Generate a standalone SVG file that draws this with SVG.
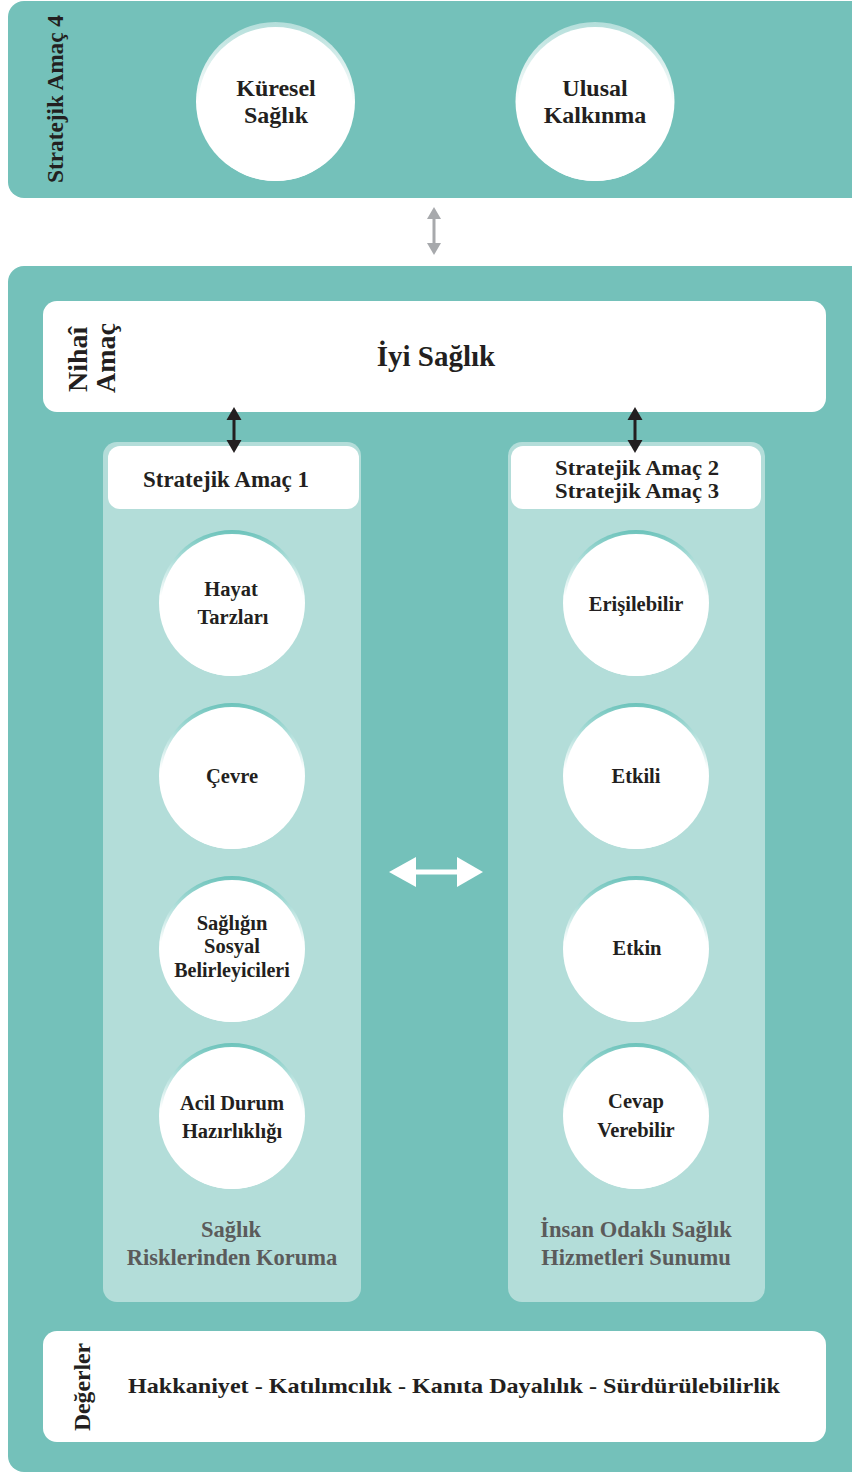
<svg xmlns="http://www.w3.org/2000/svg" width="852" height="1474" viewBox="0 0 852 1474">
<defs>
<linearGradient id="ringCol" x1="0" y1="0" x2="0" y2="1">
<stop offset="0" stop-color="#6cc3bb"/>
<stop offset="0.45" stop-color="#ffffff"/>
<stop offset="1" stop-color="#ffffff"/>
</linearGradient>
<linearGradient id="ringTop" x1="0" y1="0" x2="0" y2="1">
<stop offset="0" stop-color="#b3deda"/>
<stop offset="0.5" stop-color="#ffffff"/>
<stop offset="1" stop-color="#ffffff"/>
</linearGradient>
<style>
.t{font-family:"Liberation Serif","DejaVu Serif",serif;font-weight:bold;fill:#231f20;text-anchor:middle}
.c{font-size:20.5px}
.h{font-size:23px}
.h2{font-size:20.5px}
.k{font-size:24px}
.g{fill:#5b5b5b;font-size:22.5px}
.v{font-family:"Liberation Serif","DejaVu Serif",serif;font-weight:bold;fill:#231f20}
.teal{fill:#74c1ba}
.col{fill:#b3ddd9}
.white{fill:#ffffff}
</style>
</defs>
<rect class="white" x="0" y="0" width="852" height="1474"/>

<g id="panel-top">
<rect class="teal" x="8" y="1" width="870" height="197" rx="16"/>
<text class="v" style="font-size:23px" transform="translate(63,183) rotate(-90)" textLength="168" lengthAdjust="spacingAndGlyphs">Stratejik Amaç 4</text>
</g>
<g id="node-kuresel">
<circle cx="275.5" cy="101.5" r="79.5" fill="url(#ringTop)"/>
<circle class="white" cx="275.5" cy="104" r="77"/>
<text class="t k" x="276" y="96">Küresel</text>
<text class="t k" x="276" y="123">Sağlık</text>
</g>
<g id="node-ulusal">
<circle cx="595" cy="101.5" r="79.5" fill="url(#ringTop)"/>
<circle class="white" cx="595" cy="104" r="77"/>
<text class="t k" x="595" y="96">Ulusal</text>
<text class="t k" x="595" y="123">Kalkınma</text>
</g>

<g id="panel-main">
<rect class="teal" x="8" y="266" width="870" height="1206" rx="16"/>
</g>
<g id="node-nihai">
<rect class="white" x="43" y="301" width="783" height="111" rx="14"/>
<text class="v" style="font-size:28px" transform="translate(87,392) rotate(-90)">Nihaî</text>
<text class="v" style="font-size:28px" transform="translate(115,393) rotate(-90)">Amaç</text>
<text class="t" style="font-size:29px" x="436" y="366">İyi Sağlık</text>
</g>

<g id="column-left">
<rect class="col" x="103" y="442" width="258" height="860" rx="14"/>
<rect class="white" x="108" y="446" width="251" height="63" rx="12"/>
<text class="t h" x="226" y="487">Stratejik Amaç 1</text>
<text class="t g" x="231" y="1237">Sağlık</text>
<text class="t g" x="232" y="1265">Risklerinden Koruma</text>
</g>
<g id="column-right">
<rect class="col" x="508" y="442" width="257" height="860" rx="14"/>
<rect class="white" x="511" y="446" width="250" height="63" rx="12"/>
<text class="t h2" x="637" y="475" textLength="164" lengthAdjust="spacingAndGlyphs">Stratejik Amaç 2</text>
<text class="t h2" x="637" y="498" textLength="164" lengthAdjust="spacingAndGlyphs">Stratejik Amaç 3</text>
<text class="t g" x="636" y="1237">İnsan Odaklı Sağlık</text>
<text class="t g" x="636" y="1265">Hizmetleri Sunumu</text>
</g>

<g id="node-hayat">
<circle cx="232" cy="603" r="73" fill="url(#ringCol)"/>
<circle class="white" cx="232" cy="605" r="71"/>
<text class="t c" x="231" y="596">Hayat</text>
<text class="t c" x="233" y="624">Tarzları</text>
</g>
<g id="node-cevre">
<circle cx="232" cy="776" r="73" fill="url(#ringCol)"/>
<circle class="white" cx="232" cy="778" r="71"/>
<text class="t c" x="232" y="783">Çevre</text>
</g>
<g id="node-sosyal">
<circle cx="232" cy="949" r="73" fill="url(#ringCol)"/>
<circle class="white" cx="232" cy="951" r="71"/>
<text class="t c" x="232" y="930">Sağlığın</text>
<text class="t c" x="232" y="953">Sosyal</text>
<text class="t" style="font-size:20px" x="232" y="977">Belirleyicileri</text>
</g>
<g id="node-acil">
<circle cx="232" cy="1116" r="73" fill="url(#ringCol)"/>
<circle class="white" cx="232" cy="1118" r="71"/>
<text class="t c" x="232" y="1110">Acil Durum</text>
<text class="t c" x="232" y="1138">Hazırlıklığı</text>
</g>

<g id="node-erisilebilir">
<circle cx="636" cy="603" r="73" fill="url(#ringCol)"/>
<circle class="white" cx="636" cy="605" r="71"/>
<text class="t c" x="636" y="611">Erişilebilir</text>
</g>
<g id="node-etkili">
<circle cx="636" cy="776" r="73" fill="url(#ringCol)"/>
<circle class="white" cx="636" cy="778" r="71"/>
<text class="t c" x="636" y="783">Etkili</text>
</g>
<g id="node-etkin">
<circle cx="636" cy="949" r="73" fill="url(#ringCol)"/>
<circle class="white" cx="636" cy="951" r="71"/>
<text class="t c" x="637" y="955">Etkin</text>
</g>
<g id="node-cevap">
<circle cx="636" cy="1116" r="73" fill="url(#ringCol)"/>
<circle class="white" cx="636" cy="1118" r="71"/>
<text class="t c" x="636" y="1108">Cevap</text>
<text class="t c" x="636" y="1137">Verebilir</text>
</g>

<g id="node-degerler">
<rect class="white" x="43" y="1331" width="783" height="111" rx="14"/>
<text class="v" style="font-size:23px" transform="translate(90,1431) rotate(-90)" textLength="88" lengthAdjust="spacingAndGlyphs">Değerler</text>
<text class="t" style="font-size:22px" x="454" y="1393" textLength="652" lengthAdjust="spacingAndGlyphs">Hakkaniyet - Katılımcılık - Kanıta Dayalılık - Sürdürülebilirlik</text>
</g>

<g id="connectors">
<g fill="#a7a9ac">
<rect x="432.5" y="216" width="3" height="30"/>
<polygon points="434,207 441,219 427,219"/>
<polygon points="434,255 441,243 427,243"/>
</g>
<g fill="#231f20">
<rect x="232.5" y="418" width="3" height="25"/>
<polygon points="234,407 241.5,420 226.5,420"/>
<polygon points="234,453 241.5,440 226.5,440"/>
<rect x="633.5" y="418" width="3" height="25"/>
<polygon points="635,407 642.5,420 627.5,420"/>
<polygon points="635,453 642.5,440 627.5,440"/>
</g>
<g fill="#ffffff">
<rect x="412" y="869.5" width="50" height="5"/>
<polygon points="389,872 416,857 416,887"/>
<polygon points="483,872 457,857 457,887"/>
</g>
</g>
</svg>
